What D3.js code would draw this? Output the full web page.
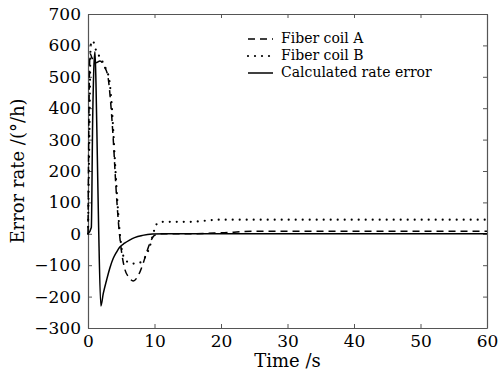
<!DOCTYPE html>
<meta charset="utf-8">
<title>Error rate</title>
<script src="https://d3js.org/d3.v7.min.js"></script>
<style>
  body { margin: 0; background: #fff; }
  text { font-family: 'DejaVu Serif', serif; fill: #000; }
  .tick text { font-size: 17px; }
  text.label { font-size: 18px; }
  text.legend { font-size: 14px; }
</style>
<div id="chart"></div>
<script>
// series (time in s, error rate in deg/h)
var timeA = [0, 0.15, 0.3, 0.6, 1.2, 1.8, 2.4, 3.0, 3.4, 3.8, 4.2, 4.6, 5.0, 5.5, 6.2, 6.8, 7.5, 8.2, 8.8, 9.4, 10, 11, 15, 20, 25, 60];
var coilA = [0, 400, 575, 560, 545, 550, 535, 500, 420, 300, 150, 30, -50, -110, -140, -150, -135, -100, -60, -25, -5, 0, 0, 3, 8, 8];

var timeB = [0, 0.2, 0.4, 0.7, 1.2, 2.0, 2.6, 3.2, 3.6, 4.0, 4.4, 4.8, 5.3, 6, 7, 8, 8.7, 9.3, 9.8, 10.3, 11, 15, 20, 60];
var coilB = [0, 300, 600, 615, 585, 555, 530, 490, 400, 250, 110, 0, -70, -90, -95, -90, -70, -40, 0, 30, 38, 38, 45, 45];

var timeC = [0, 0.5, 0.7, 0.9, 1.05, 1.2, 1.4, 1.6, 1.93, 2.3, 2.8, 3.3, 3.8, 4.3, 4.75, 5.5, 6.25, 7, 8.2, 9.7, 12, 60];
var calc = [0, 20, 360, 540, 580, 480, 250, 20, -230, -190, -147, -108, -78, -58, -43, -30, -20, -12, -5, -1, 0, 0];

var xTicks = [0, 10, 20, 30, 40, 50, 60];
var yTicks = [-300, -200, -100, 0, 100, 200, 300, 400, 500, 600, 700];
var seriesNames = ["Fiber coil A", "Fiber coil B", "Calculated rate error"];

var W = 498, H = 372;
var margin = {top: 14, right: 11, bottom: 44, left: 88};
var width = W - margin.left - margin.right,
    height = H - margin.top - margin.bottom;

var svg = d3.select("#chart").append("svg")
    .attr("width", W).attr("height", H)
  .append("g")
    .attr("transform", "translate(" + margin.left + "," + margin.top + ")");

var x = d3.scaleLinear().domain([0, 60]).range([0, width]);
var y = d3.scaleLinear().domain([-300, 700]).range([height, 0]);

// axes, ticks pointing inward on all four sides
svg.append("g")
    .attr("transform", "translate(0," + height + ")")
    .call(d3.axisBottom(x).tickValues(xTicks).tickSizeInner(-4).tickSizeOuter(0).tickPadding(7))
svg.append("g")
    .call(d3.axisLeft(y).tickValues(yTicks).tickSizeInner(-4).tickSizeOuter(0).tickPadding(7)
      .tickFormat(function(d) { return d < 0 ? "\u2212" + Math.abs(d) : d; }))
svg.append("g")
    .call(d3.axisTop(x).tickValues(xTicks).tickSizeInner(-4).tickSizeOuter(0).tickFormat(""))
svg.append("g")
    .attr("transform", "translate(" + width + ",0)")
    .call(d3.axisRight(y).tickValues(yTicks).tickSizeInner(-4).tickSizeOuter(0).tickFormat(""))

svg.selectAll(".domain").attr("stroke", "#555").attr("stroke-width", 1.2)
svg.selectAll(".tick line").attr("stroke", "#555")

var line = d3.line()
    .x(function(d) { return x(d[0]); })
    .y(function(d) { return y(d[1]); });

function pairs(t, v) { return t.map(function(d, i) { return [d, v[i]]; }); }

var styles = [
  {dash: "7,5", width: 1.5, cap: "butt"},
  {dash: "0,7", width: 2.2, cap: "round"},
  {dash: null, width: 1.5, cap: "butt"}
];

var data = [pairs(timeA, coilA), pairs(timeB, coilB), pairs(timeC, calc)];

data.forEach(function(d, i) {
  svg.append("path")
    .datum(d)
    .attr("d", line.curve(d3.curveMonotoneX))
    .attr("fill", "none")
    .attr("stroke", "black")
    .attr("stroke-width", styles[i].width)
    .attr("stroke-linecap", styles[i].cap)
    .attr("stroke-dasharray", styles[i].dash)
})

// legend
var lg = svg.append("g").attr("transform", "translate(160,29)")
seriesNames.forEach(function(name, i) {
  lg.append("line")
    .attr("x1", 0).attr("x2", 25)
    .attr("y1", i * 17 - 4).attr("y2", i * 17 - 4)
    .attr("stroke", "black")
    .attr("stroke-width", styles[i].width)
    .attr("stroke-linecap", styles[i].cap)
    .attr("stroke-dasharray", styles[i].dash)
  lg.append("text")
    .attr("class", "legend")
    .attr("x", 33).attr("y", i * 17)
    .text(name)
})

svg.append("text")
    .attr("class", "label")
    .attr("x", width / 2)
    .attr("y", height + 39)
    .attr("text-anchor", "middle")
    .text("Time /s")

svg.append("text")
    .attr("class", "label")
    .attr("transform", "translate(-64," + height / 2 + ") rotate(-90)")
    .attr("text-anchor", "middle")
    .text("Error rate /(\u00b0/h)")
</script>
